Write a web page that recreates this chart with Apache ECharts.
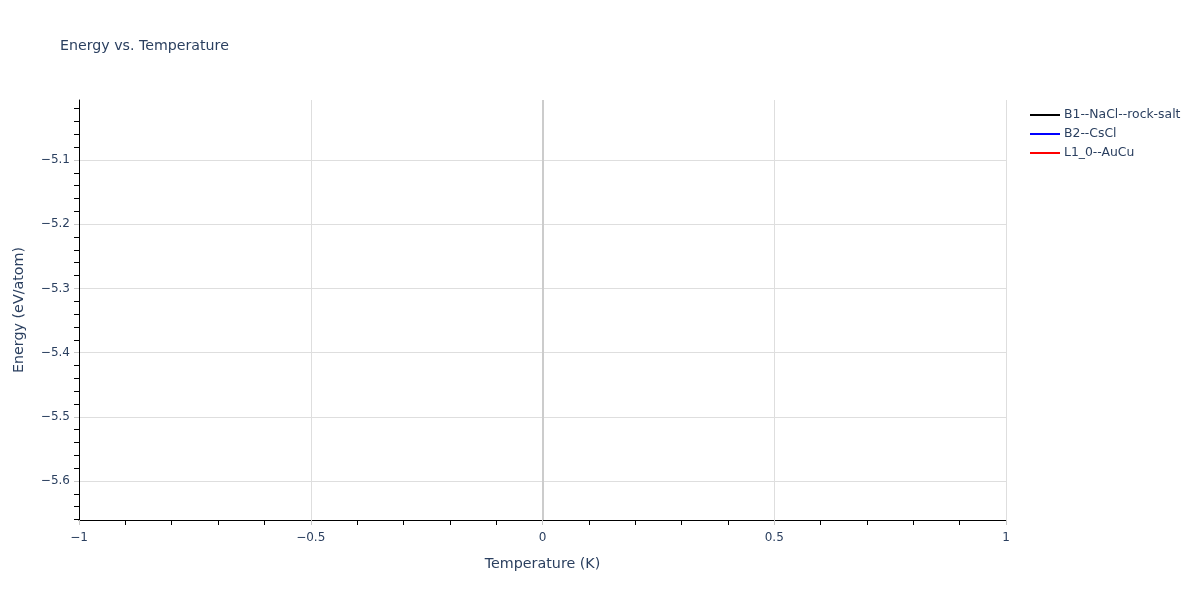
<!DOCTYPE html>
<html>
<head>
<meta charset="utf-8">
<script src="https://cdn.jsdelivr.net/npm/echarts@6/dist/echarts.min.js"></script>
<style>html,body{margin:0;padding:0;background:#fff}#c{width:1200px;height:600px}</style>
</head>
<body>
<div id="c"></div>
<script>
// ---- data ----
const seriesNames = ['B1--NaCl--rock-salt', 'B2--CsCl', 'L1_0--AuCu'];
const seriesColors = ['#000000', '#0000ff', '#ff0000'];
const temperatures = [0];
const energyB1 = [-5.039];
const energyB2 = [-5.628];
const energyL10 = [-5.40];
const xRange = [-1, 1];
const yRange = [-5.6607, -5.0065];
const xMajorTicks = [-1, -0.5, 0, 0.5, 1];
const yMajorTicks = [-5.6, -5.5, -5.4, -5.3, -5.2, -5.1];
const yMinorTicks = [-5.66, -5.64, -5.62, -5.58, -5.56, -5.54, -5.52, -5.48, -5.46, -5.44, -5.42,
  -5.38, -5.36, -5.34, -5.32, -5.28, -5.26, -5.24, -5.22, -5.18, -5.16, -5.14, -5.12,
  -5.08, -5.06, -5.04, -5.02];

const energies = [energyB1, energyB2, energyL10];
const FONT = '"DejaVu Sans", verdana, sans-serif';
const TXT = '#2a3f5f';
const minus = v => String(v).replace('-', '\u2212');

const series = seriesNames.map((name, i) => ({
  name: name,
  type: 'line',
  xAxisIndex: 0,
  yAxisIndex: 0,
  showSymbol: false,
  color: seriesColors[i],
  lineStyle: { width: 2, color: seriesColors[i] },
  data: temperatures.map((t, j) => [t, energies[i][j]]),
  markLine: i === 0 ? {
    silent: true, symbol: 'none', animation: false,
    label: { show: false },
    lineStyle: { color: '#cccccc', width: 2, type: 'solid' },
    data: [{ xAxis: 0 }]
  } : undefined
}));

const chart = echarts.init(document.getElementById('c'), null, { renderer: 'canvas' });
chart.setOption({
  animation: false,
  backgroundColor: '#ffffff',
  textStyle: { fontFamily: FONT, color: TXT },
  title: {
    text: 'Energy vs. Temperature',
    left: 60, top: 39, padding: 0,
    textStyle: { fontFamily: FONT, fontSize: 14.2, fontWeight: 'normal', color: TXT }
  },
  legend: {
    orient: 'vertical',
    left: 1030, top: 109, padding: 0,
    itemWidth: 30, itemHeight: 2, itemGap: 7,
    icon: 'rect',
    textStyle: { fontFamily: FONT, fontSize: 12.4, color: TXT, padding: [0, 0, 0, -1] },
    data: seriesNames
  },
  grid: { left: 79, right: 194, top: 100, bottom: 80, containLabel: false },
  xAxis: {
    type: 'value',
    min: xRange[0], max: xRange[1], interval: 0.5,
    name: 'Temperature (K)',
    nameLocation: 'middle', nameGap: 37,
    nameTextStyle: { fontFamily: FONT, fontSize: 14.3, color: TXT },
    axisLine: { show: true, onZero: false, lineStyle: { color: '#000', width: 1 } },
    axisTick: { show: true, length: 5, lineStyle: { color: '#c8c8c8', width: 1 } },
    minorTick: { show: true, splitNumber: 5, length: 5, lineStyle: { color: '#000', width: 1 } },
    axisLabel: { fontFamily: FONT, fontSize: 12, color: TXT, margin: 12, formatter: v => minus(v) },
    splitLine: { show: true, lineStyle: { color: '#dedede', width: 1 } }
  },
  yAxis: [{
    type: 'value',
    position: 'left',
    min: yRange[0], max: yRange[1],
    name: 'Energy (eV/atom)',
    nameLocation: 'middle', nameGap: 53,
    nameTextStyle: { fontFamily: FONT, fontSize: 14.3, color: TXT },
    axisLine: { show: true, onZero: false, lineStyle: { color: '#000', width: 1 } },
    axisTick: { show: true, length: 5, customValues: yMajorTicks, lineStyle: { color: '#c8c8c8', width: 1 } },
    axisLabel: { fontFamily: FONT, fontSize: 12, color: TXT, margin: 9, customValues: yMajorTicks,
      formatter: v => minus(Math.round(v * 10) / 10) },
    splitLine: { show: true, lineStyle: { color: '#dedede', width: 1 } }
  }, {
    type: 'value',
    position: 'left',
    min: yRange[0], max: yRange[1],
    axisLine: { show: false, onZero: false },
    axisTick: { show: true, length: 5, customValues: yMinorTicks, lineStyle: { color: '#000', width: 1 } },
    axisLabel: { show: false },
    splitLine: { show: false }
  }],
  series: series
});
</script>
</body>
</html>
